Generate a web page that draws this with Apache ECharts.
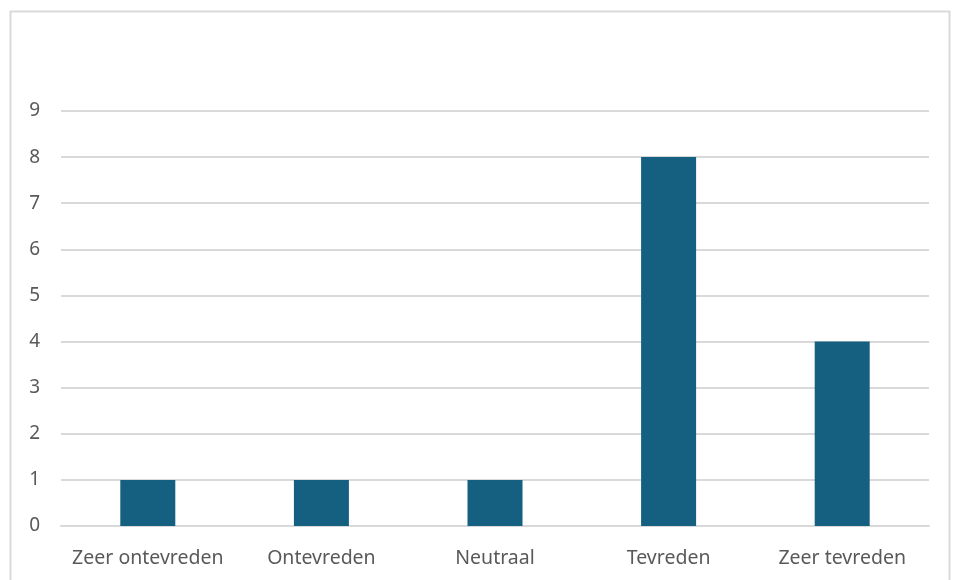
<!DOCTYPE html>
<html><head><meta charset="utf-8">
<script src="https://cdn.jsdelivr.net/npm/echarts@6/dist/echarts.min.js"></script>
<style>html,body{margin:0;padding:0;background:#fff}#c{width:960px;height:580px}</style>
</head><body><div id="c"></div>
<script>
const categories = ["Zeer ontevreden", "Ontevreden", "Neutraal", "Tevreden", "Zeer tevreden"];
const values = [1, 1, 1, 8, 4];
const yMin = 0, yMax = 9, yInterval = 1;

const chart = echarts.init(document.getElementById('c'), null, {renderer: 'canvas'});
chart.setOption({
  animation: false,
  backgroundColor: '#ffffff',
  graphic: [{
    type: 'rect', silent: true, z: -10,
    shape: {x: 10.5, y: 11.5, width: 939, height: 600},
    style: {fill: 'none', stroke: '#d9d9d9', lineWidth: 2}
  }],
  grid: {left: 61, right: 31, top: 111, bottom: 54, containLabel: false},
  xAxis: {
    type: 'category', data: categories,
    axisLine: {show: true, lineStyle: {color: '#d9d9d9', width: 2}},
    axisTick: {show: false},
    axisLabel: {color: '#595959', fontFamily: 'Noto Sans', fontSize: 19.5, margin: 22, interval: 0}
  },
  yAxis: {
    type: 'value', min: yMin, max: yMax, interval: yInterval,
    axisLine: {show: false}, axisTick: {show: false},
    splitLine: {lineStyle: {color: '#d9d9d9', width: 2}},
    axisLabel: {color: '#595959', fontFamily: 'Noto Sans', fontSize: 19, margin: 21}
  },
  series: [{
    type: 'bar', data: values, barWidth: 55,
    itemStyle: {color: '#155f80'}
  }]
});
</script></body></html>
